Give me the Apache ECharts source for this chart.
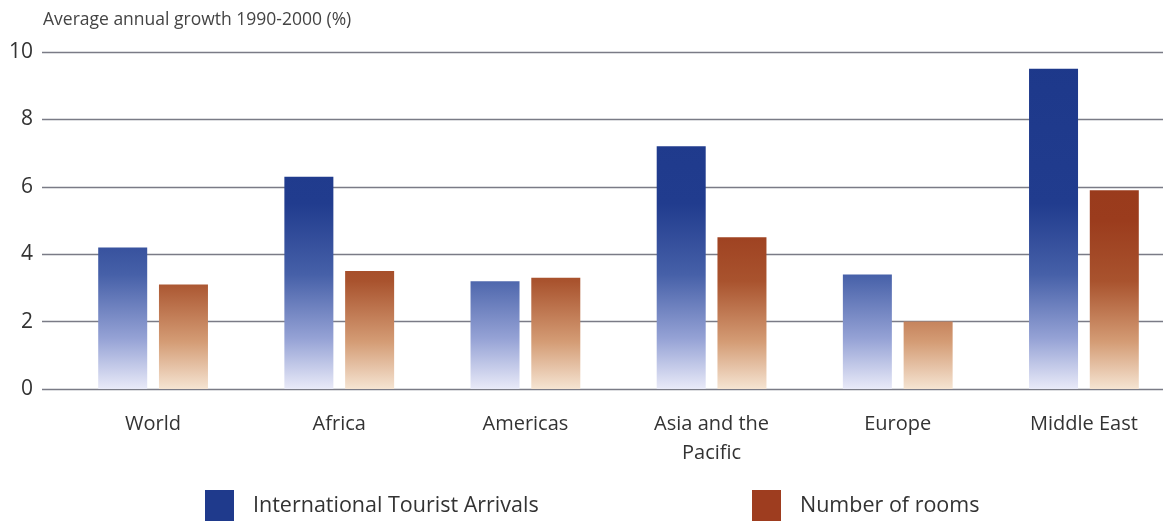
<!DOCTYPE html>
<html><head><meta charset="utf-8">
<script src="https://cdn.jsdelivr.net/npm/echarts@6/dist/echarts.min.js"></script>
<style>html,body{margin:0;padding:0;background:#fff}#c{width:1163px;height:521px}</style>
</head><body><div id="c"></div>
<script>
const categories = ['World', 'Africa', 'Americas', 'Asia and the\nPacific', 'Europe', 'Middle East'];
const arrivals = [4.2, 6.3, 3.2, 7.2, 3.4, 9.5];
const rooms = [3.1, 3.5, 3.3, 4.5, 2.0, 5.9];
const yTicks = [0, 2, 4, 6, 8, 10];
const seriesNames = ['International Tourist Arrivals', 'Number of rooms'];

const FONT = 'Open Sans';
const chart = echarts.init(document.getElementById('c'));
const gTop = 52, gBottom = 132;
const blueGrad = {type:'linear', x:0, y:gTop, x2:0, y2:521-gBottom, global:true, colorStops:[
  {offset:0, color:'#1d388a'},{offset:0.45, color:'#213c8e'},{offset:0.66, color:'#4660a8'},
  {offset:0.85, color:'#95a2d5'},{offset:1, color:'#e9eaf8'}]};
const brownGrad = {type:'linear', x:0, y:gTop, x2:0, y2:521-gBottom, global:true, colorStops:[
  {offset:0, color:'#933619'},{offset:0.5, color:'#9b3c1d'},{offset:0.68, color:'#a9532e'},
  {offset:0.86, color:'#d49c75'},{offset:1, color:'#f5e4d2'}]};

chart.setOption({
  animation:false,
  title:{text:'Average annual growth 1990-2000 (%)', left:38, top:6,
    textStyle:{fontFamily:FONT, fontSize:17.5, fontWeight:'normal', color:'#444'}},
  grid:[
    {left:60, right:-14, top:gTop, bottom:gBottom, outerBoundsMode:'none', containLabel:false},
    {left:42, right:0, top:gTop, bottom:gBottom, outerBoundsMode:'none', containLabel:false}
  ],
  legend:[
    {left:200, top:485, icon:'rect', itemWidth:29, itemHeight:31, selectedMode:false,
     textStyle:{fontFamily:FONT, fontSize:21.5, color:'#333', padding:[0,0,0,14]},
     data:[{name:seriesNames[0], itemStyle:{color:'#1f3a8c'}}]},
    {left:747, top:485, icon:'rect', itemWidth:29, itemHeight:31, selectedMode:false,
     textStyle:{fontFamily:FONT, fontSize:21.5, color:'#333', padding:[0,0,0,14]},
     data:[{name:seriesNames[1], itemStyle:{color:'#9e3d1f'}}]}
  ],
  xAxis:[
    {type:'category', gridIndex:0, data:categories, axisLine:{show:false}, axisTick:{show:false},
     axisLabel:{fontFamily:FONT, fontSize:20, color:'#333', margin:21, lineHeight:29}},
    {type:'value', gridIndex:1, show:false, min:0, max:1}
  ],
  yAxis:[
    {type:'value', gridIndex:0, min:0, max:10, interval:2, show:false, splitLine:{show:false}},
    {type:'value', gridIndex:1, min:0, max:10, interval:2,
     axisLine:{show:false}, axisTick:{show:false},
     axisLabel:{fontFamily:FONT, fontSize:21, color:'#333', margin:9,
       formatter:v => yTicks.includes(v) ? String(v) : ''},
     splitLine:{lineStyle:{color:'#7a7b86', width:1.3}}}
  ],
  series:[
    {name:seriesNames[0], type:'bar', xAxisIndex:0, yAxisIndex:0, data:arrivals,
     barWidth:49, barGap:'24%', itemStyle:{color:blueGrad}, z:3},
    {name:seriesNames[1], type:'bar', xAxisIndex:0, yAxisIndex:0, data:rooms,
     barWidth:49, barGap:'24%', itemStyle:{color:brownGrad}, z:3}
  ]
});
</script></body></html>
